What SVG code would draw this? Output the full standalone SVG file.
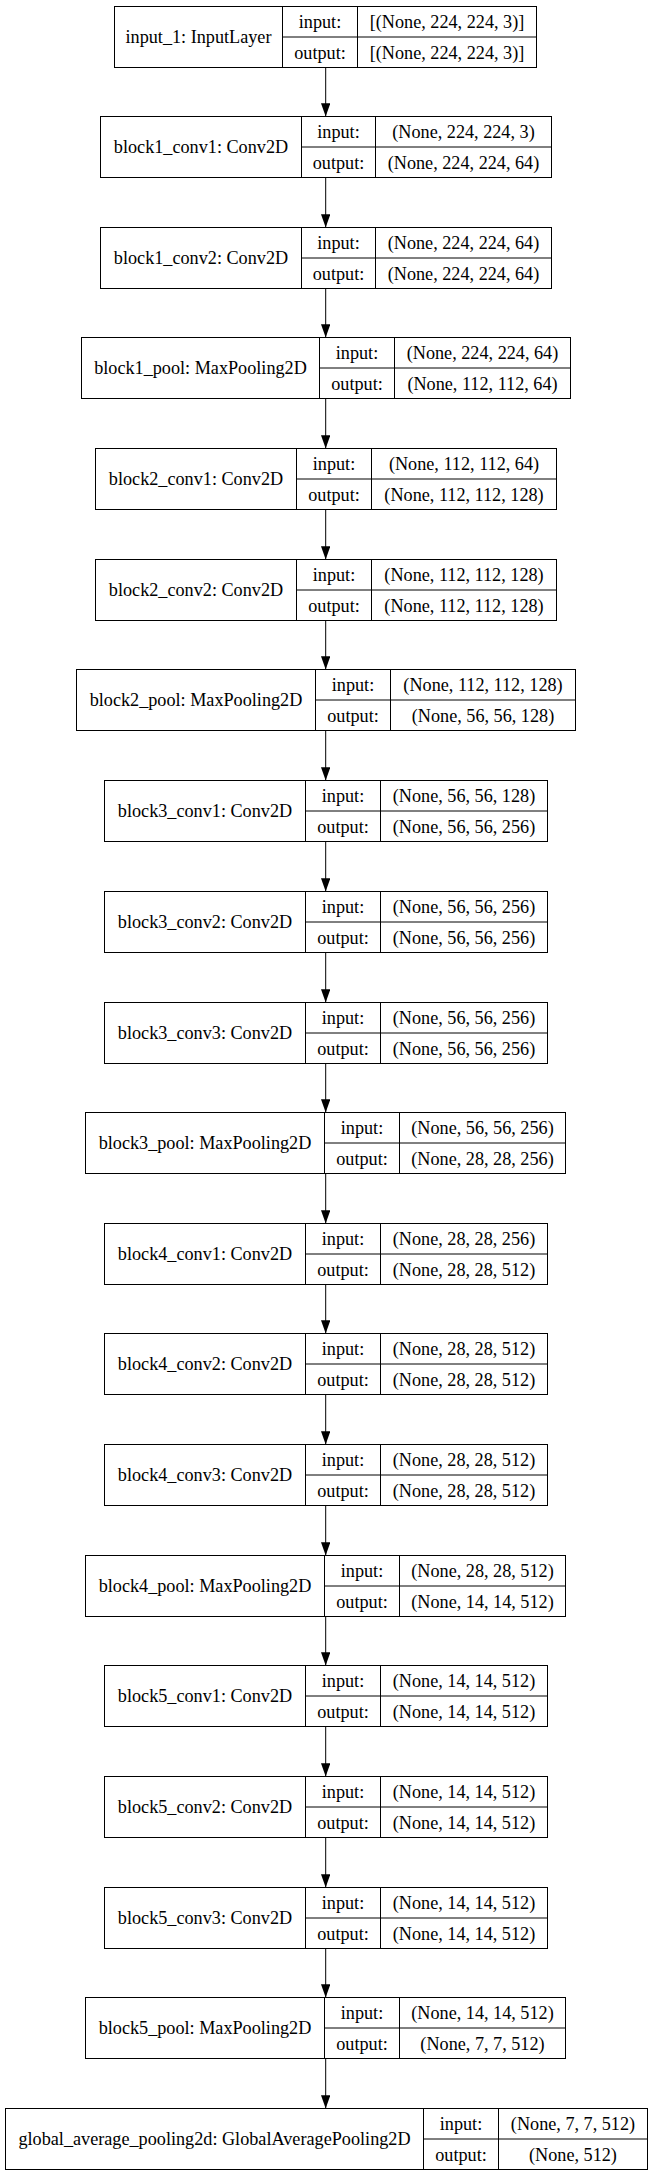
<svg xmlns="http://www.w3.org/2000/svg" width="652" height="2176" viewBox="0 0 652 2176">
<defs>
<style>
.b{fill:#ffffff;stroke:#000000;stroke-width:1}
.l{fill:none;stroke:#000000;stroke-width:1}
.e{fill:none;stroke:#000000;stroke-width:1;marker-end:url(#ah)}
text{font-family:"Liberation Serif","Times New Roman",serif;font-size:18.2px;fill:#000000;text-anchor:middle}
</style>
<marker id="ah" viewBox="0 0 13.3 9.4" refX="13.3" refY="4.7" markerWidth="13.3" markerHeight="9.4" markerUnits="userSpaceOnUse" orient="auto">
<path d="M0,0 L13.3,4.7 L0,9.4 z" fill="#000000"/>
</marker>
</defs>
<rect x="0" y="0" width="652" height="2176" fill="#ffffff"/>

<g id="connectors">
<line class="e" x1="325.7" y1="67.5" x2="325.7" y2="116.5"/>
<line class="e" x1="325.7" y1="177.5" x2="325.7" y2="227.5"/>
<line class="e" x1="325.7" y1="288.5" x2="325.7" y2="337.5"/>
<line class="e" x1="325.7" y1="398.5" x2="325.7" y2="448.5"/>
<line class="e" x1="325.7" y1="509.5" x2="325.7" y2="559.5"/>
<line class="e" x1="325.7" y1="620.5" x2="325.7" y2="669.5"/>
<line class="e" x1="325.7" y1="730.5" x2="325.7" y2="780.5"/>
<line class="e" x1="325.7" y1="841.5" x2="325.7" y2="891.5"/>
<line class="e" x1="325.7" y1="952.5" x2="325.7" y2="1002.5"/>
<line class="e" x1="325.7" y1="1063.5" x2="325.7" y2="1112.5"/>
<line class="e" x1="325.7" y1="1173.5" x2="325.7" y2="1223.5"/>
<line class="e" x1="325.7" y1="1284.5" x2="325.7" y2="1333.5"/>
<line class="e" x1="325.7" y1="1394.5" x2="325.7" y2="1444.5"/>
<line class="e" x1="325.7" y1="1505.5" x2="325.7" y2="1555.5"/>
<line class="e" x1="325.7" y1="1616.5" x2="325.7" y2="1665.5"/>
<line class="e" x1="325.7" y1="1726.5" x2="325.7" y2="1776.5"/>
<line class="e" x1="325.7" y1="1837.5" x2="325.7" y2="1887.5"/>
<line class="e" x1="325.7" y1="1948.5" x2="325.7" y2="1997.5"/>
<line class="e" x1="325.7" y1="2058.5" x2="325.7" y2="2108.5"/>
</g>

<g id="input_1" transform="translate(0,6.5)">
<rect class="b" x="114.5" y="0" width="422" height="61"/>
<path class="l" d="M282.5,0V61M357.5,0V61M282.5,30.5H536.5"/>
<text x="198.5" y="36.5">input_1: InputLayer</text>
<text x="320" y="21.5">input:</text><text x="320" y="52">output:</text>
<text x="447" y="21.5">[(None, 224, 224, 3)]</text><text x="447" y="52">[(None, 224, 224, 3)]</text>
</g>

<g id="block1_conv1" transform="translate(0,116.5)">
<rect class="b" x="100.5" y="0" width="451" height="61"/>
<path class="l" d="M301.5,0V61M375.5,0V61M301.5,30.5H551.5"/>
<text x="201" y="36.5">block1_conv1: Conv2D</text>
<text x="338.5" y="21.5">input:</text><text x="338.5" y="52">output:</text>
<text x="463.5" y="21.5">(None, 224, 224, 3)</text><text x="463.5" y="52">(None, 224, 224, 64)</text>
</g>

<g id="block1_conv2" transform="translate(0,227.5)">
<rect class="b" x="100.5" y="0" width="451" height="61"/>
<path class="l" d="M301.5,0V61M375.5,0V61M301.5,30.5H551.5"/>
<text x="201" y="36.5">block1_conv2: Conv2D</text>
<text x="338.5" y="21.5">input:</text><text x="338.5" y="52">output:</text>
<text x="463.5" y="21.5">(None, 224, 224, 64)</text><text x="463.5" y="52">(None, 224, 224, 64)</text>
</g>

<g id="block1_pool" transform="translate(0,337.5)">
<rect class="b" x="81.5" y="0" width="489" height="61"/>
<path class="l" d="M319.5,0V61M394.5,0V61M319.5,30.5H570.5"/>
<text x="200.5" y="36.5">block1_pool: MaxPooling2D</text>
<text x="357" y="21.5">input:</text><text x="357" y="52">output:</text>
<text x="482.5" y="21.5">(None, 224, 224, 64)</text><text x="482.5" y="52">(None, 112, 112, 64)</text>
</g>

<g id="block2_conv1" transform="translate(0,448.5)">
<rect class="b" x="95.5" y="0" width="461" height="61"/>
<path class="l" d="M296.5,0V61M371.5,0V61M296.5,30.5H556.5"/>
<text x="196" y="36.5">block2_conv1: Conv2D</text>
<text x="334" y="21.5">input:</text><text x="334" y="52">output:</text>
<text x="464" y="21.5">(None, 112, 112, 64)</text><text x="464" y="52">(None, 112, 112, 128)</text>
</g>

<g id="block2_conv2" transform="translate(0,559.5)">
<rect class="b" x="95.5" y="0" width="461" height="61"/>
<path class="l" d="M296.5,0V61M371.5,0V61M296.5,30.5H556.5"/>
<text x="196" y="36.5">block2_conv2: Conv2D</text>
<text x="334" y="21.5">input:</text><text x="334" y="52">output:</text>
<text x="464" y="21.5">(None, 112, 112, 128)</text><text x="464" y="52">(None, 112, 112, 128)</text>
</g>

<g id="block2_pool" transform="translate(0,669.5)">
<rect class="b" x="76.5" y="0" width="499" height="61"/>
<path class="l" d="M315.5,0V61M390.5,0V61M315.5,30.5H575.5"/>
<text x="196" y="36.5">block2_pool: MaxPooling2D</text>
<text x="353" y="21.5">input:</text><text x="353" y="52">output:</text>
<text x="483" y="21.5">(None, 112, 112, 128)</text><text x="483" y="52">(None, 56, 56, 128)</text>
</g>

<g id="block3_conv1" transform="translate(0,780.5)">
<rect class="b" x="104.5" y="0" width="443" height="61"/>
<path class="l" d="M305.5,0V61M380.5,0V61M305.5,30.5H547.5"/>
<text x="205" y="36.5">block3_conv1: Conv2D</text>
<text x="343" y="21.5">input:</text><text x="343" y="52">output:</text>
<text x="464" y="21.5">(None, 56, 56, 128)</text><text x="464" y="52">(None, 56, 56, 256)</text>
</g>

<g id="block3_conv2" transform="translate(0,891.5)">
<rect class="b" x="104.5" y="0" width="443" height="61"/>
<path class="l" d="M305.5,0V61M380.5,0V61M305.5,30.5H547.5"/>
<text x="205" y="36.5">block3_conv2: Conv2D</text>
<text x="343" y="21.5">input:</text><text x="343" y="52">output:</text>
<text x="464" y="21.5">(None, 56, 56, 256)</text><text x="464" y="52">(None, 56, 56, 256)</text>
</g>

<g id="block3_conv3" transform="translate(0,1002.5)">
<rect class="b" x="104.5" y="0" width="443" height="61"/>
<path class="l" d="M305.5,0V61M380.5,0V61M305.5,30.5H547.5"/>
<text x="205" y="36.5">block3_conv3: Conv2D</text>
<text x="343" y="21.5">input:</text><text x="343" y="52">output:</text>
<text x="464" y="21.5">(None, 56, 56, 256)</text><text x="464" y="52">(None, 56, 56, 256)</text>
</g>

<g id="block3_pool" transform="translate(0,1112.5)">
<rect class="b" x="85.5" y="0" width="480" height="61"/>
<path class="l" d="M324.5,0V61M399.5,0V61M324.5,30.5H565.5"/>
<text x="205" y="36.5">block3_pool: MaxPooling2D</text>
<text x="362" y="21.5">input:</text><text x="362" y="52">output:</text>
<text x="482.5" y="21.5">(None, 56, 56, 256)</text><text x="482.5" y="52">(None, 28, 28, 256)</text>
</g>

<g id="block4_conv1" transform="translate(0,1223.5)">
<rect class="b" x="104.5" y="0" width="443" height="61"/>
<path class="l" d="M305.5,0V61M380.5,0V61M305.5,30.5H547.5"/>
<text x="205" y="36.5">block4_conv1: Conv2D</text>
<text x="343" y="21.5">input:</text><text x="343" y="52">output:</text>
<text x="464" y="21.5">(None, 28, 28, 256)</text><text x="464" y="52">(None, 28, 28, 512)</text>
</g>

<g id="block4_conv2" transform="translate(0,1333.5)">
<rect class="b" x="104.5" y="0" width="443" height="61"/>
<path class="l" d="M305.5,0V61M380.5,0V61M305.5,30.5H547.5"/>
<text x="205" y="36.5">block4_conv2: Conv2D</text>
<text x="343" y="21.5">input:</text><text x="343" y="52">output:</text>
<text x="464" y="21.5">(None, 28, 28, 512)</text><text x="464" y="52">(None, 28, 28, 512)</text>
</g>

<g id="block4_conv3" transform="translate(0,1444.5)">
<rect class="b" x="104.5" y="0" width="443" height="61"/>
<path class="l" d="M305.5,0V61M380.5,0V61M305.5,30.5H547.5"/>
<text x="205" y="36.5">block4_conv3: Conv2D</text>
<text x="343" y="21.5">input:</text><text x="343" y="52">output:</text>
<text x="464" y="21.5">(None, 28, 28, 512)</text><text x="464" y="52">(None, 28, 28, 512)</text>
</g>

<g id="block4_pool" transform="translate(0,1555.5)">
<rect class="b" x="85.5" y="0" width="480" height="61"/>
<path class="l" d="M324.5,0V61M399.5,0V61M324.5,30.5H565.5"/>
<text x="205" y="36.5">block4_pool: MaxPooling2D</text>
<text x="362" y="21.5">input:</text><text x="362" y="52">output:</text>
<text x="482.5" y="21.5">(None, 28, 28, 512)</text><text x="482.5" y="52">(None, 14, 14, 512)</text>
</g>

<g id="block5_conv1" transform="translate(0,1665.5)">
<rect class="b" x="104.5" y="0" width="443" height="61"/>
<path class="l" d="M305.5,0V61M380.5,0V61M305.5,30.5H547.5"/>
<text x="205" y="36.5">block5_conv1: Conv2D</text>
<text x="343" y="21.5">input:</text><text x="343" y="52">output:</text>
<text x="464" y="21.5">(None, 14, 14, 512)</text><text x="464" y="52">(None, 14, 14, 512)</text>
</g>

<g id="block5_conv2" transform="translate(0,1776.5)">
<rect class="b" x="104.5" y="0" width="443" height="61"/>
<path class="l" d="M305.5,0V61M380.5,0V61M305.5,30.5H547.5"/>
<text x="205" y="36.5">block5_conv2: Conv2D</text>
<text x="343" y="21.5">input:</text><text x="343" y="52">output:</text>
<text x="464" y="21.5">(None, 14, 14, 512)</text><text x="464" y="52">(None, 14, 14, 512)</text>
</g>

<g id="block5_conv3" transform="translate(0,1887.5)">
<rect class="b" x="104.5" y="0" width="443" height="61"/>
<path class="l" d="M305.5,0V61M380.5,0V61M305.5,30.5H547.5"/>
<text x="205" y="36.5">block5_conv3: Conv2D</text>
<text x="343" y="21.5">input:</text><text x="343" y="52">output:</text>
<text x="464" y="21.5">(None, 14, 14, 512)</text><text x="464" y="52">(None, 14, 14, 512)</text>
</g>

<g id="block5_pool" transform="translate(0,1997.5)">
<rect class="b" x="85.5" y="0" width="480" height="61"/>
<path class="l" d="M324.5,0V61M399.5,0V61M324.5,30.5H565.5"/>
<text x="205" y="36.5">block5_pool: MaxPooling2D</text>
<text x="362" y="21.5">input:</text><text x="362" y="52">output:</text>
<text x="482.5" y="21.5">(None, 14, 14, 512)</text><text x="482.5" y="52">(None, 7, 7, 512)</text>
</g>

<g id="global_average_pooling2d" transform="translate(0,2108.5)">
<rect class="b" x="5.5" y="0" width="642" height="61"/>
<path class="l" d="M423.5,0V61M498.5,0V61M423.5,30.5H647.5"/>
<text x="214.5" y="36.5">global_average_pooling2d: GlobalAveragePooling2D</text>
<text x="461" y="21.5">input:</text><text x="461" y="52">output:</text>
<text x="573" y="21.5">(None, 7, 7, 512)</text><text x="573" y="52">(None, 512)</text>
</g>
</svg>
